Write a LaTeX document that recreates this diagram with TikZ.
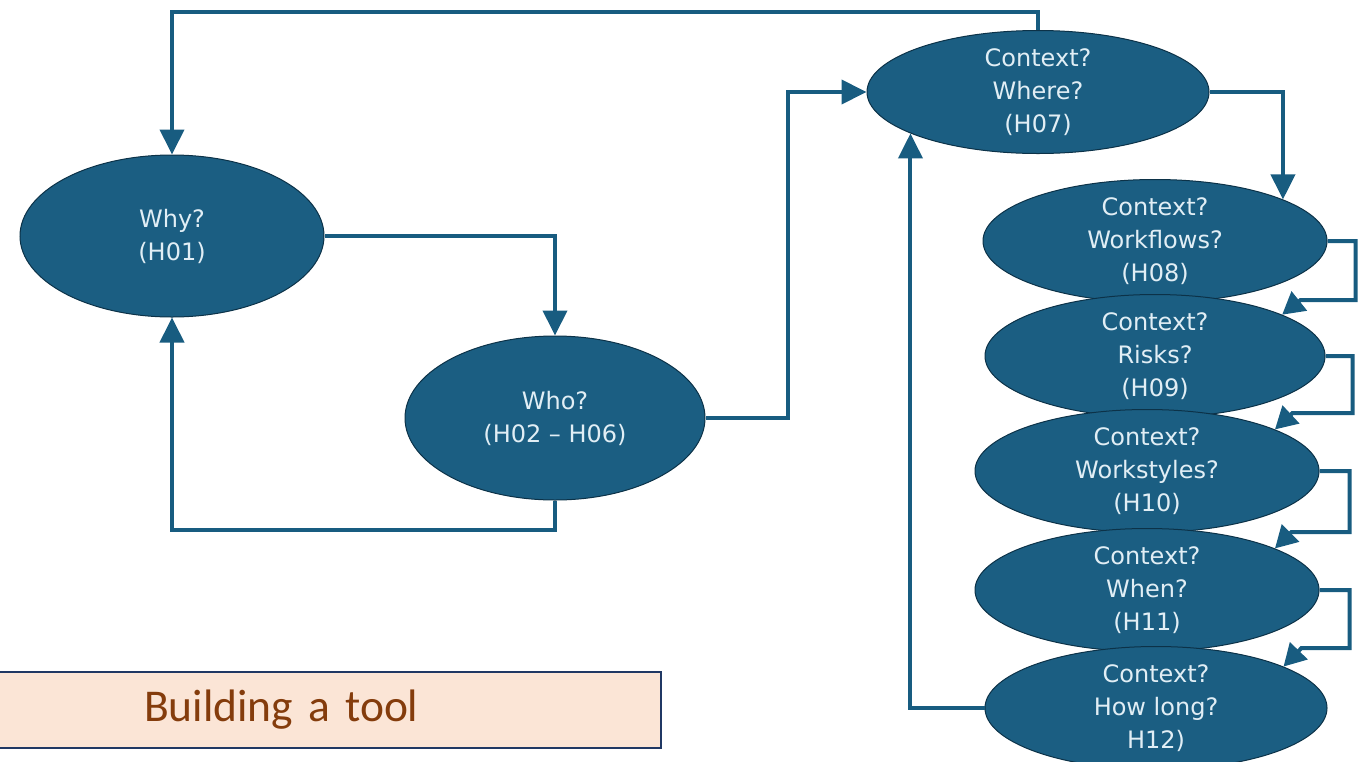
\documentclass[tikz,border=0pt]{standalone}
\usepackage{fontspec}
\newfontfamily\dejavu{DejaVu Sans}
\newfontfamily\carlito{Carlito}
\usetikzlibrary{shapes.geometric,arrows.meta}
\definecolor{nodeblue}{RGB}{27,94,130}
\definecolor{edgeblue}{RGB}{24,92,128}
\definecolor{rimblue}{RGB}{12,50,72}
\definecolor{txtlight}{RGB}{225,238,245}
\definecolor{boxfill}{RGB}{251,229,214}
\definecolor{boxtext}{RGB}{132,60,12}
\definecolor{boxrim}{RGB}{32,56,100}
\begin{document}
\begin{tikzpicture}[x=1pt,y=-1pt,
  q/.style={ellipse, fill=nodeblue, draw=rimblue, line width=1pt, inner sep=0pt,
    text=txtlight, align=center, font=\dejavu\fontsize{24}{33}\selectfont},
  conn/.style={draw=edgeblue, line width=4pt, -{Triangle[width=24pt,length=25pt]}},
  conns/.style={draw=edgeblue, line width=4pt, -{Triangle[width=24pt,length=22pt]}},
  toolbox/.style={rectangle, fill=boxfill, draw=boxrim, line width=2pt, inner xsep=0pt,
    text=boxtext, font=\carlito\fontsize{45.5}{50}\selectfont, align=left}]
\useasboundingbox (0,0) rectangle (1362,761);

\node[q, minimum width=304pt, minimum height=162pt] (why) at (172,236) {Why?\\(H01)};
\node[q, minimum width=300pt, minimum height=164pt] (who) at (555,418) {Who?\\(H02 – H06)};
\node[q, minimum width=342pt, minimum height=110pt] (where) at (1038,92) {Context?\\Where?\\(H07)};
\node[q, minimum width=344pt, minimum height=106pt] (wf) at (1155,241) {Context?\\Workflows?\\(H08)};
\node[q, minimum width=340pt, minimum height=106pt] (risk) at (1155,356) {Context?\\Risks?\\(H09)};
\node[q, minimum width=344pt, minimum height=108pt] (ws) at (1147,471) {Context?\\Workstyles?\\(H10)};
\node[q, minimum width=344pt, minimum height=106pt] (when) at (1147,590) {Context?\\When?\\(H11)};
\node[q, minimum width=342pt, minimum height=106pt] (hl) at (1156,708) {Context?\\How long?\\H12)};

\node[toolbox, anchor=west, minimum height=76pt, text width=665pt] (tool) at (-5,710)
  {\hspace*{148pt}Building a tool};

\coordinate (topbend) at (172,12);
\draw[conn] (where.north) |- (topbend) -- (why.north);
\draw[conn] (why.east) -| (who.north);
\draw[conn] (who.south) -- ++(0,29) -| (why.south);
\draw[conn] (who.east) -- ++(82,0) |- (where.west);
\draw[conn] (where.east) -| (wf.18);
\draw[conns] (wf.east) -- ++(28,0) -- ++(0,59) -- ++(-55,0) -- (risk.18);
\draw[conns] (risk.east) -- ++(27,0) -- ++(0,57) -- ++(-60,0) -- (ws.18);
\draw[conns] (ws.east) -- ++(30,0) -- ++(0,61) -- ++(-58,0) -- (when.18);
\draw[conns] (when.east) -- ++(30,0) -- ++(0,58) -- ++(-48,0) -- (hl.18);
\draw[conn] (hl.west) -| (where.198);
\end{tikzpicture}
\end{document}
